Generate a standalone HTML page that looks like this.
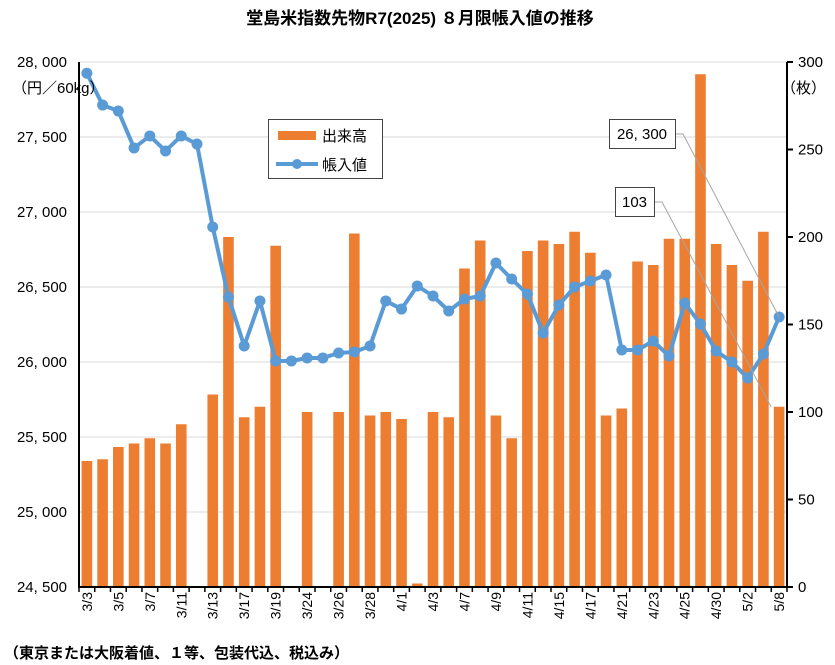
<!DOCTYPE html>
<html><head><meta charset="utf-8"><style>
body{margin:0;background:#fff;}
svg{display:block;font-family:"Liberation Sans","Noto Sans CJK JP",sans-serif;}
</style></head><body>
<svg width="835" height="665" xmlns="http://www.w3.org/2000/svg">
<text x="420" y="24" text-anchor="middle" font-size="17" font-weight="bold">堂島米指数先物R7(2025) ８月限帳入値の推移</text>
<g id="grid"></g>
<g id="bars"></g>
<g id="line"></g>
<g id="axes"></g>
<text x="12" y="93" font-size="15">（円／60kg）</text>
<text x="781" y="93" font-size="15">（枚）</text>
<g>
<rect x="268.5" y="119.5" width="114" height="59" fill="#fff" stroke="#444"/>
<rect x="278" y="131" width="38" height="9" fill="#ED7D31"/>
<text x="322" y="141" font-size="15">出来高</text>
<line x1="276" y1="164" x2="318" y2="164" stroke="#5B9BD5" stroke-width="4"/>
<circle cx="297" cy="164" r="5" fill="#5B9BD5"/>
<text x="322" y="170" font-size="15">帳入値</text>
</g>
<g id="callouts"></g>
<text x="4" y="658" font-size="15" font-weight="bold">（東京または大阪着値、１等、包装代込、税込み）</text>
</svg>
<script>
const categories=["3/3","3/4","3/5","3/6","3/7","3/10","3/11","3/12","3/13","3/14","3/17","3/18","3/19","3/21","3/24","3/25","3/26","3/27","3/28","3/31","4/1","4/2","4/3","4/4","4/7","4/8","4/9","4/10","4/11","4/14","4/15","4/16","4/17","4/18","4/21","4/22","4/23","4/24","4/25","4/28","4/30","5/1","5/2","5/7","5/8"];
const volume=[72,73,80,82,85,82,93,0.5,110,200,97,103,195,0,100,0,100,202,98,100,96,2,100,97,182,198,98,85,192,198,196,203,191,98,102,186,184,199,199,293,196,184,175,203,103];
const price=[27925,27713,27673,27427,27507,27407,27507,27453,26900,26433,26107,26407,26007,26007,26027,26027,26060,26067,26107,26407,26353,26507,26440,26340,26420,26440,26660,26553,26453,26193,26380,26500,26540,26580,26080,26080,26140,26040,26393,26253,26073,26000,25893,26053,26300];
const leftTicks=[24500,25000,25500,26000,26500,27000,27500,28000];
const rightTicks=[0,50,100,150,200,250,300];
const NS="http://www.w3.org/2000/svg";
const X0=79,X1=787,Y0=587,Y1=62;
const bw=(X1-X0)/categories.length;
const xc=i=>X0+bw*(i+0.5);
const yL=v=>Y0-(v-24500)/(28000-24500)*(Y0-Y1);
const yR=v=>Y0-v/300*(Y0-Y1);
function mk(tag,attrs,parent){const e=document.createElementNS(NS,tag);for(const k in attrs)e.setAttribute(k,attrs[k]);parent.appendChild(e);return e;}
const grid=document.getElementById('grid'),bars=document.getElementById('bars'),line=document.getElementById('line'),axes=document.getElementById('axes'),call=document.getElementById('callouts');
leftTicks.forEach(t=>{
 const y=yL(t);
 const g=mk('line',{x1:X0,x2:X1,y1:y,y2:y,stroke:'#d9d9d9','stroke-width':1},grid);
 
 
 const tx=mk('text',{x:67,y:y+5,'text-anchor':'end','font-size':15},axes);
 tx.textContent=t.toLocaleString('en-US').replace(',',', ');
 
 
});
rightTicks.forEach(t=>{
 const y=yR(t);
 const tk=mk('line',{x1:X1,x2:X1+6,y1:y,y2:y,stroke:'#000','stroke-width':2},axes);
 
 
 const tx=mk('text',{x:798,y:y+5,'font-size':15},axes);
 tx.textContent=t;
 
 
});
volume.forEach((v,i)=>{
 const y=yR(v);
 const r=mk('rect',{x:xc(i)-5.3,y:y,width:10.6,height:Y0-y,fill:'#ED7D31'},bars);
 
 
});
const pl=mk('polyline',{points:price.map((v,i)=>xc(i)+','+yL(v)).join(' '),fill:'none',stroke:'#5B9BD5','stroke-width':4,'stroke-linejoin':'round'},line);


price.forEach((v,i)=>{
 const c=mk('circle',{cx:xc(i),cy:yL(v),r:5.5,fill:'#5B9BD5'},line);
 
 
});
const la=mk('line',{x1:X0,x2:X0,y1:Y1,y2:Y0+1,stroke:'#000','stroke-width':2},axes);


const ra=mk('line',{x1:X1,x2:X1,y1:Y1,y2:Y0+1,stroke:'#000','stroke-width':2},axes);


const xa=mk('line',{x1:X0,x2:X1,y1:Y0,y2:Y0,stroke:'#000','stroke-width':2},axes);


for(let i=0;i<=categories.length;i++){
 const t=mk('line',{x1:X0+bw*i,x2:X0+bw*i,y1:Y0,y2:Y0+5,stroke:'#000','stroke-width':1.5},axes);
 
 
}
categories.forEach((c,i)=>{
 if(i%2) return;
 const x=xc(i)+5,y=592;
 const t=mk('text',{x:x,y:y,'font-size':14,'text-anchor':'end',transform:`rotate(-90 ${x} ${y})`},axes);
 t.textContent=c;
 
 
});
const n=categories.length-1;
function callout(txt,bx,by,bwid,px,py,name){
 const l=mk('polyline',{points:`${bx+bwid},${by+15} ${bx+bwid+8},${by+15} ${px},${py}`,fill:'none',stroke:'#a6a6a6','stroke-width':1},call);
 
 
 const r=mk('rect',{x:bx+0.5,y:by+0.5,width:bwid,height:29,fill:'#fff',stroke:'#444'},call);
 
 
 const t=mk('text',{x:bx+bwid/2,y:by+20,'text-anchor':'middle','font-size':15},call);
 t.textContent=txt;
 
 
}
callout(price[n].toLocaleString('en-US').replace(',',', '),609,119,66,xc(n),yL(price[n]),'price-callout');
callout(String(volume[n]),615,187,39,xc(n)-8,yR(volume[n]),'volume-callout');
</script>
</body></html>
